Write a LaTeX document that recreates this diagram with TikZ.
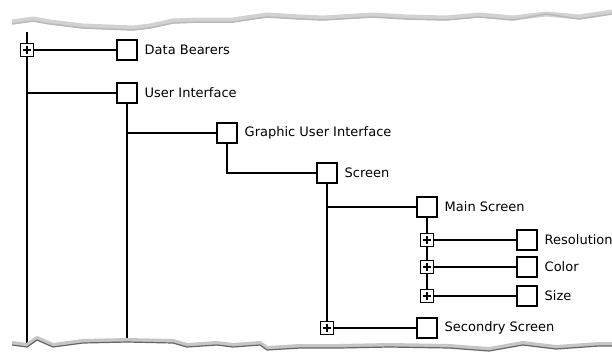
\documentclass[tikz,border=0pt]{standalone}
\usepackage{fontspec}
\setmainfont{DejaVu Sans}
\usepackage{tikz}

\begin{document}
\begin{tikzpicture}[x=1pt,y=-1pt,line width=1.8pt,
    box/.style={draw,fill=white,line width=1.6pt,minimum size=20pt,inner sep=0pt},
    plusbox/.style={draw,fill=white,line width=1.8pt,minimum size=13pt,inner sep=0pt,
        path picture={\draw[line width=2.6pt,line cap=butt]
            ([xshift=-3.6pt]path picture bounding box.center)--([xshift=3.6pt]path picture bounding box.center)
            ([yshift=-3.6pt]path picture bounding box.center)--([yshift=3.6pt]path picture bounding box.center);}},
    txt/.style={anchor=west,font=\fontsize{13}{15}\selectfont,inner sep=0pt,xshift=6pt}]
    \useasboundingbox (0,0) rectangle (612,356);
    \coordinate (topA) at (27,32);
    \coordinate (botA) at (27,345);
    \coordinate (botB) at (127,345);
        \node[box] (db) at (127,50){};
        \node[box] (ui) at (127,93){};
        \node[box] (gui) at (227,133){};
        \node[box] (scr) at (327,173){};
        \node[box] (main) at (427,207){};
        \node[box] (res) at (527,240){};
        \node[box] (col) at (527,267){};
        \node[box] (size) at (527,296){};
        \node[box] (sec) at (427,328){};
        \node[plusbox] (pdb) at (27,50){};
        \node[plusbox] (pres) at (427,240){};
        \node[plusbox] (pcol) at (427,267){};
        \node[plusbox] (psize) at (427,296){};
        \node[plusbox] (psec) at (327,328){};
        \node[txt] at (db.east){Data Bearers};
        \node[txt] at (ui.east){User Interface};
        \node[txt] at (gui.east){Graphic User Interface};
        \node[txt] at (scr.east){Screen};
        \node[txt] at (main.east){Main Screen};
        \node[txt] at (res.east){Resolution};
        \node[txt] at (col.east){Color};
        \node[txt] at (size.east){Size};
        \node[txt] at (sec.east){Secondry Screen};
    % connectors, stopping at the node borders
        \draw (topA)--(pdb) (pdb)--(botA);
        \draw (pdb)--(db);
        \draw (ui -| topA)--(ui);
        \draw (ui)--(botB);
        \draw (gui -| ui)--(gui);
        \draw (gui.south) |- (scr.west);
        \draw (scr)--(psec);
        \draw (main -| scr)--(main);
        \draw (main)--(pres) (pres)--(pcol) (pcol)--(psize);
        \draw (pres)--(res);
        \draw (pcol)--(col);
        \draw (psize)--(size);
        \draw (psec)--(sec);
    % torn edges
    \fill[white] (10,352) -- (12,343) -- (27,345) -- (37,338) -- (53,345) -- (83,341) -- (127,340) -- (173,341) -- (187,345)
        -- (217,343) -- (233,345) -- (260,343) -- (267,348) -- (300,346) -- (339,346) -- (389,345) -- (449,346)
        -- (489,349) -- (523,343) -- (556,347) -- (599,344) -- (612,344) -- (612,356) -- (10,356) -- cycle;
    \draw[gray!45,line width=4pt,line join=round] (12,343) -- (27,345) -- (37,338) -- (53,345) -- (83,341) -- (127,340) -- (173,341) -- (187,345)
        -- (217,343) -- (233,345) -- (260,343) -- (267,348) -- (300,346) -- (339,346) -- (389,345) -- (449,346)
        -- (489,349) -- (523,343) -- (556,347) -- (599,344) -- (612,344);
    \draw[gray!80!black,line width=1.2pt,line join=round] (12,345) -- (27,347) -- (37,340) -- (53,347) -- (83,343) -- (127,342) -- (173,343) -- (187,347)
        -- (217,345) -- (233,347) -- (260,345) -- (267,350) -- (300,348) -- (339,348) -- (389,347) -- (449,348)
        -- (489,351) -- (523,345) -- (556,349) -- (599,346) -- (612,346);
    \draw[gray!35,line width=5pt,line join=round] (12,22) -- (33,19) -- (50,22) -- (83,26) -- (133,28) -- (150,26) -- (173,21)
        -- (200,20) -- (233,20) -- (253,17) -- (267,15) -- (300,17) -- (323,18) -- (373,15) -- (406,17) -- (446,18)
        -- (479,15) -- (513,18) -- (546,14) -- (579,17) -- (612,12);
    \draw[gray!55,line width=1.5pt,line join=round] (12,24) -- (33,21) -- (50,24) -- (83,28) -- (133,30) -- (150,28) -- (173,23)
        -- (200,22) -- (233,22) -- (253,19) -- (267,17) -- (300,19) -- (323,20) -- (373,17) -- (406,19) -- (446,20)
        -- (479,17) -- (513,20) -- (546,14) -- (579,19) -- (612,14);
\end{tikzpicture}
\end{document}
